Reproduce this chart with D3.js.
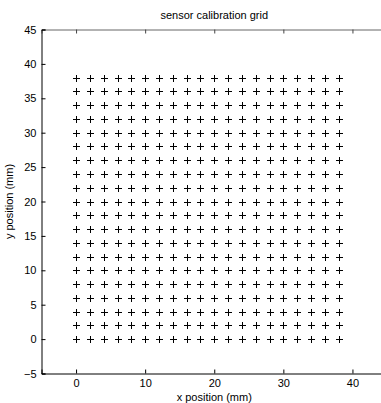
<!DOCTYPE html>
<html><head><meta charset="utf-8">
<script src="https://cdn.jsdelivr.net/npm/d3@7"></script>
<style>body{margin:0;background:#fff}text{font-family:"Liberation Sans",Arial,sans-serif;fill:#000}</style>
</head><body><svg id="c" width="381" height="403"></svg>
<script>
const xGrid = [0,2,4,6,8,10,12,14,16,18,20,22,24,26,28,30,32,34,36,38];
const yGrid = [0,2,4,6,8,10,12,14,16,18,20,22,24,26,28,30,32,34,36,38];
const xTicks = [0,10,20,30,40];
const yTicks = [-5,0,5,10,15,20,25,30,35,40,45];
const title = "sensor calibration grid";
const xLabel = "x position (mm)";
const yLabel = "y position (mm)";

const svg = d3.select("#c");
const L=41.5, R=387, T=29.5, B=373.5;
const x = d3.scaleLinear().domain([-5,45]).range([L,R]);
const y = d3.scaleLinear().domain([-5,45]).range([B,T]);

const pts = [];
yGrid.forEach(yv=>xGrid.forEach(xv=>pts.push([xv,yv])));
const g = svg.append("g");
g.selectAll("path.m").data(pts).join("path").attr("class","m")
 .attr("d",d=>{const cx=Math.round(x(d[0]))+0.5, cy=Math.round(y(d[1]))+0.5, s=3.5;
   return `M${cx-s},${cy}H${cx+s}M${cx},${cy-s}V${cy+s}`;})
 .attr("stroke","#000").attr("stroke-width",1).attr("fill","none");

// axes
const xa = svg.append("g").attr("transform",`translate(0,${B})`)
 .call(d3.axisBottom(x).tickValues(xTicks).tickSize(-4).tickPadding(6).tickFormat(d3.format("d")));
const xt = svg.append("g").attr("transform",`translate(0,${T})`)
 .call(d3.axisTop(x).tickValues(xTicks).tickSize(-4).tickFormat(""));
const ya = svg.append("g").attr("transform",`translate(${L},0)`)
 .call(d3.axisLeft(y).tickValues(yTicks).tickSize(-4).tickPadding(5).tickFormat(d=>d<0?"\u2212"+Math.abs(d):d));
[xa,xt,ya].forEach(a=>{a.selectAll("text").style("font-size","11px").style("font-family","Liberation Sans, Arial, sans-serif").attr("fill","#000");
 a.selectAll("line,path").attr("stroke","#000");});
xt.select("path.domain").attr("stroke","#666");
xt.selectAll("line").attr("stroke","#444");

svg.append("text").attr("x",(L+R)/2).attr("y",19).attr("text-anchor","middle").style("font-size","11px").text(title);
svg.append("text").attr("x",(L+R)/2).attr("y",400.5).attr("text-anchor","middle").style("font-size","11px").text(xLabel);
svg.append("text").attr("transform",`translate(13,${(T+B)/2}) rotate(-90)`).attr("text-anchor","middle").style("font-size","11px").text(yLabel);
</script></body></html>
